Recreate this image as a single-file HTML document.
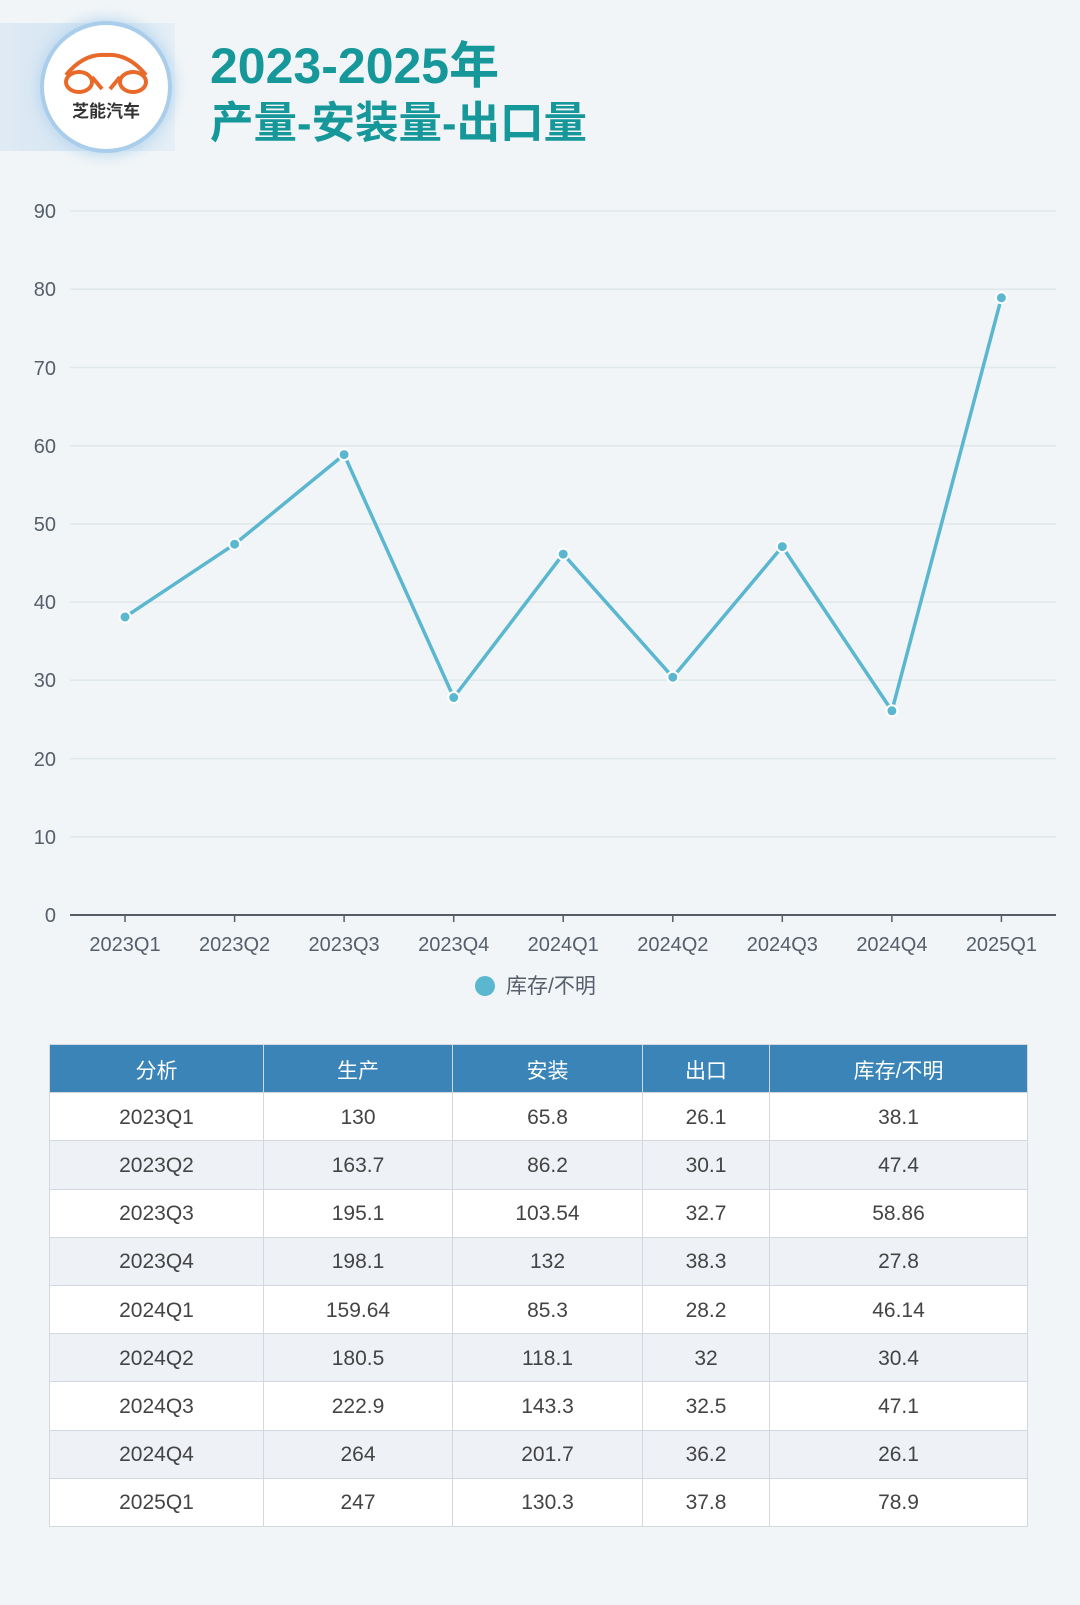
<!DOCTYPE html>
<html><head><meta charset="utf-8"><style>
body{margin:0;width:1080px;height:1605px;background:#f1f5f7;position:relative;overflow:hidden;font-family:"Liberation Sans","Noto Sans CJK SC",sans-serif;}
.band{position:absolute;left:0;top:23px;width:175px;height:128px;background:linear-gradient(90deg,#dfeaf4 0%,#d3e4f2 60%,#e6eff6 100%);}
.logo{position:absolute;left:44px;top:25px;width:124px;height:124px;border-radius:50%;background:#fff;box-shadow:0 0 0 4px #a9cdea,0 0 14px 6px #b9d7ef;}
.t1{position:absolute;left:210px;top:26px;font-size:50px;font-weight:bold;color:#16989a;}
.t2{position:absolute;left:210px;top:88px;font-size:43.5px;font-weight:bold;color:#16989a;}
table{position:absolute;left:49px;top:1044px;border-collapse:collapse;font-size:21px;color:#444;}
td,th{border:1px solid #d3d8de;text-align:center;padding:2px 0 0 0;height:45.2px;box-sizing:content-box;}
th{background:#3a84b8;color:#fff;font-weight:normal;}
tr:nth-child(odd) td{background:#eef1f6;}
tr:nth-child(even) td{background:#fff;}
</style></head><body>
<div class="band"></div>
<div class="logo">
<svg width="124" height="124" viewBox="0 0 124 124">
<g fill="none" stroke="#e8692a" stroke-width="4">
<ellipse cx="35" cy="57" rx="13" ry="10"/><ellipse cx="89" cy="57" rx="13" ry="10"/>
<path d="M22 50 Q40 28 62 30 Q84 28 102 50"/><path d="M48 52 L58 64 M76 52 L66 64"/>
</g>
<text x="62" y="92" text-anchor="middle" font-size="17" font-weight="bold" fill="#333" font-family="Noto Sans CJK SC,sans-serif">芝能汽车</text>
</svg></div>
<div class="t1">2023-2025年</div>
<div class="t2">产量-安装量-出口量</div>
<svg style="position:absolute;left:0;top:0" width="1080" height="1010">
<g stroke="#dfe8ea" stroke-width="1.5">
<line x1="70" x2="1056" y1="836.8" y2="836.8"/><line x1="70" x2="1056" y1="758.6" y2="758.6"/><line x1="70" x2="1056" y1="680.3" y2="680.3"/><line x1="70" x2="1056" y1="602.1" y2="602.1"/><line x1="70" x2="1056" y1="523.9" y2="523.9"/><line x1="70" x2="1056" y1="445.7" y2="445.7"/><line x1="70" x2="1056" y1="367.5" y2="367.5"/><line x1="70" x2="1056" y1="289.2" y2="289.2"/><line x1="70" x2="1056" y1="211" y2="211"/>
</g>
<line x1="70" x2="1056" y1="915" y2="915" stroke="#555d66" stroke-width="2"/>
<g stroke="#555d66" stroke-width="1.5">
<line x1="125" x2="125" y1="915" y2="922"/><line x1="234.6" x2="234.6" y1="915" y2="922"/><line x1="344.1" x2="344.1" y1="915" y2="922"/><line x1="453.7" x2="453.7" y1="915" y2="922"/><line x1="563.2" x2="563.2" y1="915" y2="922"/><line x1="672.8" x2="672.8" y1="915" y2="922"/><line x1="782.3" x2="782.3" y1="915" y2="922"/><line x1="891.9" x2="891.9" y1="915" y2="922"/><line x1="1001.4" x2="1001.4" y1="915" y2="922"/>
</g>
<g font-size="20" fill="#555e6a" text-anchor="end">
<text x="56" y="922">0</text><text x="56" y="844">10</text><text x="56" y="766">20</text><text x="56" y="687">30</text><text x="56" y="609">40</text><text x="56" y="531">50</text><text x="56" y="453">60</text><text x="56" y="375">70</text><text x="56" y="296">80</text><text x="56" y="218">90</text>
</g>
<g font-size="20" fill="#555e6a" text-anchor="middle">
<text x="125" y="951">2023Q1</text><text x="234.6" y="951">2023Q2</text><text x="344.1" y="951">2023Q3</text><text x="453.7" y="951">2023Q4</text><text x="563.2" y="951">2024Q1</text><text x="672.8" y="951">2024Q2</text><text x="782.3" y="951">2024Q3</text><text x="891.9" y="951">2024Q4</text><text x="1001.4" y="951">2025Q1</text>
</g>
<polyline fill="none" stroke="#5ab7cf" stroke-width="3.5" stroke-linejoin="round" points="125,617 234.6,544.2 344.1,454.6 453.7,697.5 563.2,554.1 672.8,677.2 782.3,546.6 891.9,710.8 1001.4,297.8"/>
<g fill="#5ab7cf" stroke="#fff" stroke-width="2">
<circle cx="125" cy="617" r="5.5"/><circle cx="234.6" cy="544.2" r="5.5"/><circle cx="344.1" cy="454.6" r="5.5"/><circle cx="453.7" cy="697.5" r="5.5"/><circle cx="563.2" cy="554.1" r="5.5"/><circle cx="672.8" cy="677.2" r="5.5"/><circle cx="782.3" cy="546.6" r="5.5"/><circle cx="891.9" cy="710.8" r="5.5"/><circle cx="1001.4" cy="297.8" r="5.5"/>
</g>
<circle cx="485" cy="986" r="10" fill="#5ab7cf"/>
<text x="506" y="993" font-size="21" fill="#555e6a">库存/不明</text>
</svg>
<table>
<tr><th style="width:213px">分析</th><th style="width:188px">生产</th><th style="width:189px">安装</th><th style="width:126px">出口</th><th style="width:257px">库存/不明</th></tr>
<tr><td>2023Q1</td><td>130</td><td>65.8</td><td>26.1</td><td>38.1</td></tr>
<tr><td>2023Q2</td><td>163.7</td><td>86.2</td><td>30.1</td><td>47.4</td></tr>
<tr><td>2023Q3</td><td>195.1</td><td>103.54</td><td>32.7</td><td>58.86</td></tr>
<tr><td>2023Q4</td><td>198.1</td><td>132</td><td>38.3</td><td>27.8</td></tr>
<tr><td>2024Q1</td><td>159.64</td><td>85.3</td><td>28.2</td><td>46.14</td></tr>
<tr><td>2024Q2</td><td>180.5</td><td>118.1</td><td>32</td><td>30.4</td></tr>
<tr><td>2024Q3</td><td>222.9</td><td>143.3</td><td>32.5</td><td>47.1</td></tr>
<tr><td>2024Q4</td><td>264</td><td>201.7</td><td>36.2</td><td>26.1</td></tr>
<tr><td>2025Q1</td><td>247</td><td>130.3</td><td>37.8</td><td>78.9</td></tr>
</table>
</body></html>
